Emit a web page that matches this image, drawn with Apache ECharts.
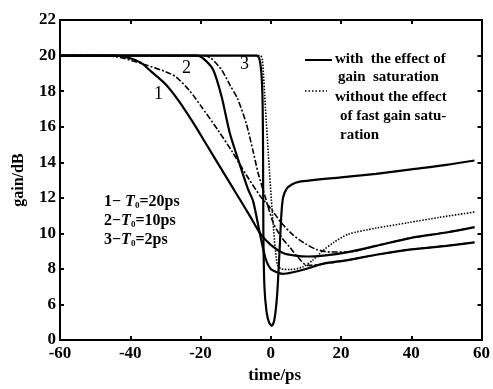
<!DOCTYPE html>
<html><head><meta charset="utf-8">
<script src="https://cdn.jsdelivr.net/npm/echarts@6/dist/echarts.min.js"></script>
<style>html,body{margin:0;padding:0;background:#fff}#c{width:493px;height:389px}</style>
</head><body><div id="c"></div>
<script>
// x: time (ps), y: gain (dB); bottom of axis is drawn at 4 but labelled "0" (broken axis)
const xTicks = [-60, -40, -20, 0, 20, 40, 60];
const yTickLabels = {4:'0', 6:'6', 8:'8', 10:'10', 12:'12', 14:'14', 16:'16', 18:'18', 20:'20', 22:'22'};

// with the effect of gain saturation (solid)
const solid1 = [[-60,20],[-44,20],[-40,19.85],[-37,19.6],[-34,19.1],[-30,18.4],[-26,17.4],[-22,16.2],[-18,14.9],[-14,13.6],[-10,12.3],[-6,11.0],[-3,10.0],[0,9.35],[3.5,8.9],[7,8.75],[10.5,8.7],[15,8.75],[22,8.95],[30,9.3],[40,9.75],[50,10.05],[58,10.35]];
const solid2 = [[-60,20],[-21,20],[-19,19.8],[-16.4,19.2],[-14,17.7],[-11.6,15.6],[-8.7,13.8],[-6.5,12.5],[-5,11.8],[-3,9.9],[-1.5,8.6],[0,8.0],[2,7.8],[3.5,7.72],[6,7.8],[10,8.0],[15,8.3],[22,8.5],[30,8.8],[40,9.1],[50,9.3],[58,9.5]];
const solid3 = [[-60,20],[-4,20],[-3,19.6],[-2.4,18],[-2.2,15],[-2.1,10],[-1.8,7],[-1.2,5.6],[-0.5,5.0],[0.3,4.8],[1,5.1],[1.8,6.5],[2.5,9],[3,11],[3.5,12],[4.5,12.5],[6,12.75],[8,12.9],[20,13.15],[30,13.35],[40,13.6],[50,13.85],[58,14.1]];
// without the effect of fast gain saturation (dotted)
const dot1 = [[-60,20],[-47,20],[-42,19.85],[-36,19.5],[-30,19.1],[-27,18.8],[-23,18.0],[-20,17.2],[-15,15.8],[-11,14.6],[-7,13.3],[-3,12.1],[0,11.4],[3,10.6],[6.4,9.9],[10,9.4],[13,9.1],[17,8.95],[22,8.95],[30,9.3],[40,9.75],[50,10.05],[58,10.35]];
const dot2 = [[-60,20],[-19,20],[-17,19.85],[-14,19.2],[-11.5,18.3],[-9.5,17.6],[-7,16.2],[-5,14.6],[-3.6,13.4],[-1.5,12.0],[0.7,10.6],[3,9.8],[5.5,9.2],[8,8.6],[10.4,8.2],[14,8.25],[22,8.5],[30,8.8],[40,9.1],[50,9.3],[58,9.5]];
const dot3 = [[-60,20],[-3,20],[-2.4,19.8],[-1.5,17],[-0.7,14.5],[0.5,11],[1.8,8.3],[3,8.0],[5.5,7.97],[9,8.1],[12,8.5],[15,9.06],[18,9.5],[22,9.95],[30,10.3],[39,10.6],[48,10.9],[58,11.2]];

const legendTexts = ['with  the effect of', 'gain  saturation', 'without the effect', 'of fast gain satu-', 'ration'];
const curveNames = ['1', '2', '3'];
const paramLines = [['1− ', '20ps'], ['2−', '10ps'], ['3−', '2ps']];

const F = 'Liberation Serif';
const chart = echarts.init(document.getElementById('c'));
const axisLine = {show:true, onZero:false, lineStyle:{color:'#000', width:2}};
function lineSeries(data, type, w){
  return {type:'line', data:data, symbol:'none', smooth:0.25, xAxisIndex:0, yAxisIndex:0,
    lineStyle:{color:'#000', width:w, type:type}, z:3};
}
const graphics = [];
// legend
graphics.push({type:'line', shape:{x1:305,y1:60,x2:332,y2:60}, style:{stroke:'#000', lineWidth:2}});
graphics.push({type:'line', shape:{x1:305,y1:91,x2:327,y2:91}, style:{stroke:'#000', lineWidth:1.5, lineDash:[1.5,2]}});
const legY = [59, 77, 97, 116, 135];
const legX = [335, 338, 335, 340, 340];
legendTexts.forEach((t,i)=>graphics.push({type:'text', x:legX[i], y:legY[i],
  style:{text:t, font:'bold 15px "'+F+'"', fill:'#000', textVerticalAlign:'middle'}}));
// curve numbers
const numPos = [[154,94],[182,68],[240,64]];
curveNames.forEach((t,i)=>graphics.push({type:'text', x:numPos[i][0], y:numPos[i][1],
  style:{text:t, font:'18px "'+F+'"', fill:'#000', textVerticalAlign:'middle'}}));
// parameter lines
const parY = [202, 221, 240];
paramLines.forEach((p,i)=>graphics.push({type:'text', x:104, y:parY[i],
  style:{rich:{a:{fontFamily:F, fontSize:16, fontWeight:'bold', fill:'#000'},
               i:{fontFamily:F, fontSize:16, fontStyle:'italic', fontWeight:'bold', fill:'#000'},
               s:{fontFamily:F, fontSize:9, fontWeight:'bold', fill:'#000', verticalAlign:'bottom', padding:[8,0,0,0]}},
         text:'{a|'+p[0]+'}{i|T}{s|0}{a|='+p[1]+'}', textVerticalAlign:'middle'}}));

chart.setOption({
  animation:false,
  grid:{left:60, right:10, top:20, bottom:42},
  xAxis:[
    {type:'value', min:-60, max:60, interval:20, axisLine:axisLine, splitLine:{show:false},
     axisTick:{inside:true, length:4, lineStyle:{color:'#000', width:2}},
     axisLabel:{color:'#000', fontFamily:F, fontSize:17, fontWeight:'bold', margin:5},
     name:'time/ps', nameLocation:'middle', nameGap:23,
     nameTextStyle:{color:'#000', fontFamily:F, fontSize:17, fontWeight:'bold', padding:[0,0,0,8]}},
    {type:'value', position:'top', min:-60, max:60, interval:20, axisLine:axisLine, splitLine:{show:false},
     axisTick:{inside:true, length:4, lineStyle:{color:'#000', width:2}}, axisLabel:{show:false}}
  ],
  yAxis:[
    {type:'value', min:4, max:22, interval:2, axisLine:axisLine, splitLine:{show:false},
     axisTick:{inside:true, length:4, lineStyle:{color:'#000', width:2}},
     axisLabel:{color:'#000', fontFamily:F, fontSize:17, fontWeight:'bold', margin:4,
       formatter:v=>yTickLabels[v]!==undefined?yTickLabels[v]:''},
     name:'gain/dB', nameLocation:'middle', nameGap:33,
     nameTextStyle:{color:'#000', fontFamily:F, fontSize:16, fontWeight:'bold'}},
    {type:'value', position:'right', min:4, max:22, interval:2, axisLine:axisLine, splitLine:{show:false},
     axisTick:{inside:true, length:4, lineStyle:{color:'#000', width:2}}, axisLabel:{show:false}}
  ],
  series:[
    lineSeries(solid1,'solid',2.2), lineSeries(solid2,'solid',2.2), lineSeries(solid3,'solid',2.2),
    lineSeries(dot1,[6,2,2,2],1.6), lineSeries(dot2,[6,2,2,2],1.6), lineSeries(dot3,[1.5,1.5],1.6)
  ],
  graphic:graphics
});
</script></body></html>
